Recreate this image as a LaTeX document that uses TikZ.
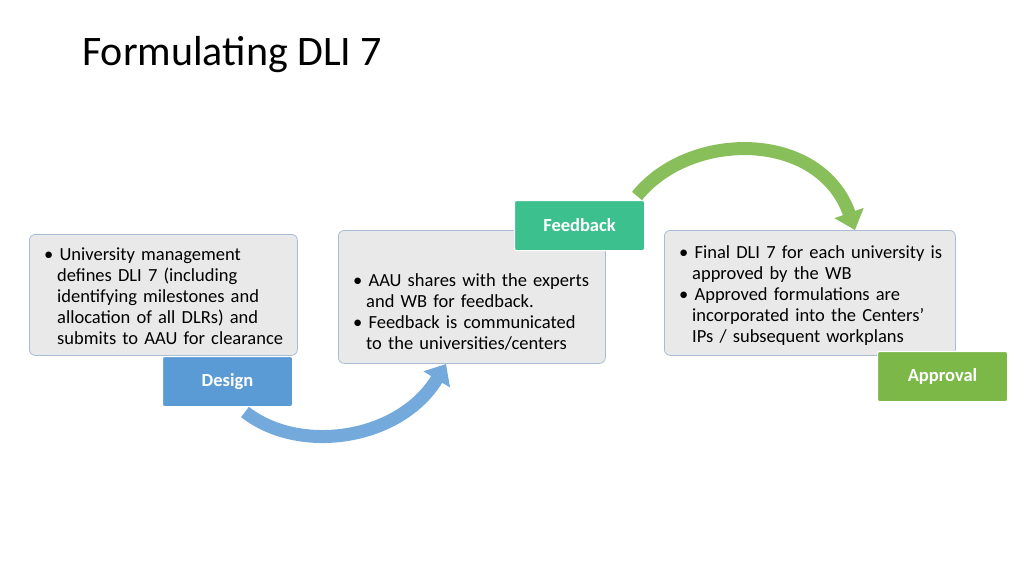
\documentclass[tikz,border=0pt]{standalone}
\usepackage{fontspec}
\setmainfont{Carlito}
\usetikzlibrary{arrows.meta}
\definecolor{boxfill}{HTML}{E9E9EA}
\definecolor{boxline}{HTML}{A9BCD6}
\definecolor{dblue}{HTML}{5B9BD5}
\definecolor{fgreen}{HTML}{3CC08E}
\definecolor{agreen}{HTML}{7CB848}
\tikzset{
 x=1pt,y=-1pt,
 infobox/.style={draw=boxline,fill=boxfill,rounded corners=6pt,line width=0.8pt,anchor=north west,inner sep=0pt},
 tab/.style={draw=white,line width=1pt,rounded corners=2pt,anchor=north west,minimum width=130pt,minimum height=50pt,text=white,font=\fontsize{18.5}{20}\selectfont\bfseries},
 txt/.style={anchor=north west,align=left,font=\fontsize{18.5}{21}\selectfont,text width=#1,inner sep=0pt},
 bigarrow/.style={line width=13pt,-{Triangle[length=18pt,width=30pt]}}
}
\begin{document}
\begin{tikzpicture}
\useasboundingbox (0,0) rectangle (1024,576);
\node[anchor=west,font=\fontsize{42}{48}\selectfont,inner sep=0pt] (title) at (82,55) {Formulating DLI 7};
% box 1
\node[infobox,minimum width=268pt,minimum height=121pt] (b1) at (29,234) {};
\node[txt=260pt] (t1) at (44,248) {\textbullet\ University management\\\hspace*{13pt}defines DLI 7 (including\\\hspace*{13pt}identifying milestones and\\\hspace*{13pt}allocation of all DLRs) and\\\hspace*{13pt}submits to AAU for clearance};
\node[tab,fill=dblue] (design) at (162,356) {Design};
% box 2
\node[infobox,minimum width=267pt,minimum height=133pt] (b2) at (338,230) {};
\node[txt=260pt] (t2) at (353,273) {\textbullet\ AAU shares with the experts\\\hspace*{13pt}and WB for feedback.\\\textbullet\ Feedback is communicated\\\hspace*{13pt}to the universities/centers};
\node[tab,fill=fgreen] (feedback) at (514,200) {Feedback};
% box 3
\node[infobox,minimum width=291pt,minimum height=125pt] (b3) at (664,230) {};
\node[txt=285pt] (t3) at (679,245) {\textbullet\ Final DLI 7 for each university is\\\hspace*{13pt}approved by the WB\\\textbullet\ Approved formulations are\\\hspace*{13pt}incorporated into the Centers'\\\hspace*{13pt}IPs / subsequent workplans};
\node[tab,fill=agreen] (approval) at (877,351) {Approval};
% arrows
\coordinate (a1s) at (245,412);
\coordinate (a1e) at (446,364);
\draw[bigarrow,draw=dblue!85!white] (a1s) .. controls (300,455) and (400,440) .. (a1e);
\coordinate (a2s) at (637,196);
\coordinate (a2e) at (855,230);
\draw[bigarrow,draw=agreen!90!white] (a2s) .. controls (690,130) and (820,130) .. (a2e);
\end{tikzpicture}
\end{document}
